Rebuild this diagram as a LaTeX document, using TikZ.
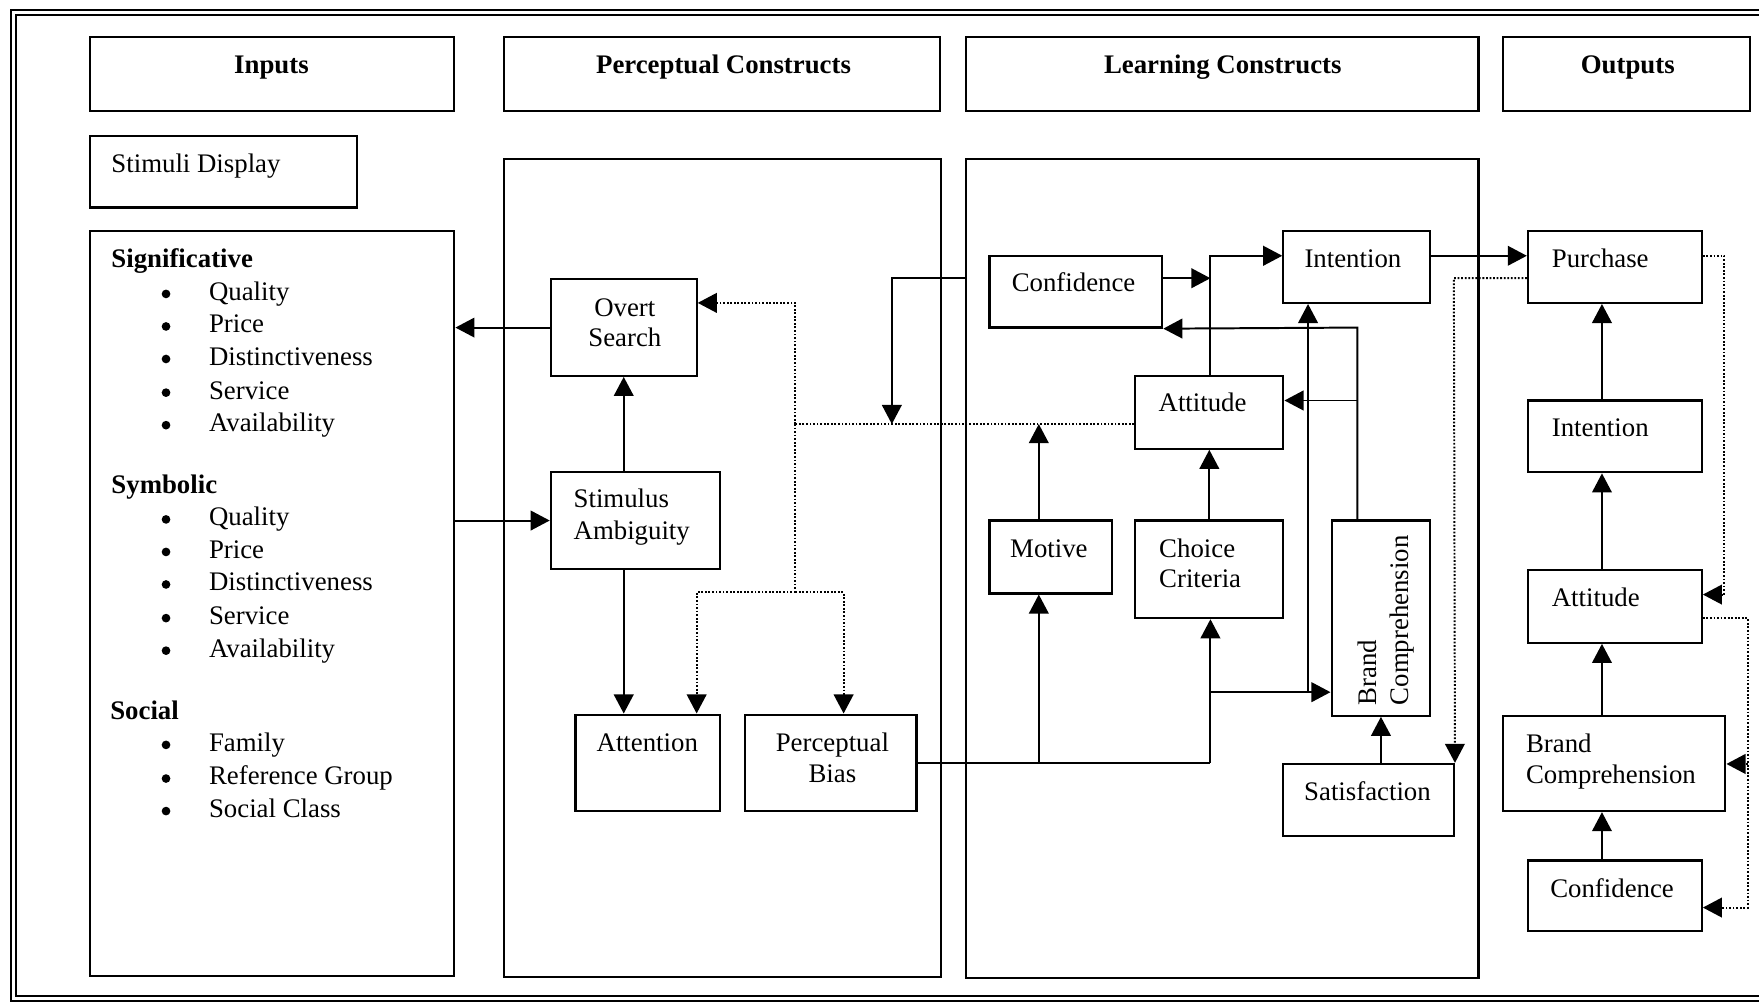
\documentclass[tikz,border=0pt]{standalone}
\usepackage{fontspec}
\setmainfont{Liberation Serif}
\usetikzlibrary{arrows.meta,fit,calc}
\newcommand{\fsz}{\fontsize{13.6}{16.5}\selectfont}
\begin{document}
\begin{tikzpicture}[x=0.02cm,y=-0.02cm,
  box/.style={draw, line width=1.1pt, inner sep=0pt},
  txt/.style={inner sep=0pt, text height=9.5pt, text depth=3pt, font=\fsz, yshift=-0.04cm},
  bt/.style={txt, font=\fsz\bfseries},
  bul/.style={circle, fill, inner sep=0pt, minimum size=0.155cm},
  arr/.style={line width=1pt, -{Triangle[length=0.34cm,width=0.35cm]}},
  ln/.style={line width=1pt},
  dot/.style={line width=0.9pt, dash pattern=on 0.9pt off 0.9pt},
  frame/.style={line width=1pt}]
\useasboundingbox (0,0) rectangle (1568,893);
% outer double frame
\draw[frame] (1568,9) -- (10,9) -- (10,892) -- (1568,892);
\draw[frame] (1568,13) -- (14,13) -- (14,888) -- (1568,888);

% header boxes
\node[box, fit={(80,33) (405,99)}] (hIn) {};
\node[box, fit={(449,33) (838,99)}] (hPc) {};
\node[box, fit={(861,33) (1318,99)}] (hLc) {};
\node[box, fit={(1340,33) (1560,99)}] (hOut) {};
\node[bt] (tIn) at (242,58) {Inputs};
\node[bt] (tPc) at (645,58) {Perceptual Constructs};
\node[bt] (tLc) at (1090,58) {Learning Constructs};
\node[bt] (tOut) at (1451,58) {Outputs};

% inputs
\node[box, fit={(80,121) (318,185)}] (sd) {};
\node[txt, anchor=west] (tSD) at (99,146) {Stimuli Display};
\node[box, fit={(80,206) (405,870)}] (inp) {};
\node[bt, anchor=west] (hSig) at (99,231) {Significative};
\foreach \y/\t [count=\i] in {260/Quality,289/Price,318/Distinctiveness,348/Service,377/Availability}{
  \node[bul] (sgb\i) at (148,\y+2) {};
  \node[txt, anchor=west] (sg\i) at (186,\y) {\t};
}
\node[bt, anchor=west] (hSym) at (99,432) {Symbolic};
\foreach \y/\t [count=\i] in {461/Quality,490/Price,519/Distinctiveness,549/Service,578/Availability}{
  \node[bul] (syb\i) at (148,\y+2) {};
  \node[txt, anchor=west] (sy\i) at (186,\y) {\t};
}
\node[bt, anchor=west] (hSoc) at (98,634) {Social};
\foreach \y/\t [count=\i] in {662/Family,692/Reference Group,721/Social Class}{
  \node[bul] (sob\i) at (148,\y+2) {};
  \node[txt, anchor=west] (so\i) at (186,\y) {\t};
}

% perceptual constructs
\node[box, fit={(449,142) (839,871)}] (pp) {};
\node[box, fit={(491,249) (621,335)}] (os) {};
\node[txt] (tOs1) at (557,274) {Overt};
\node[txt] (tOs2) at (557,301) {Search};
\node[box, fit={(491,421) (642,507)}] (sa) {};
\node[txt, anchor=west] (tSa1) at (511,445) {Stimulus};
\node[txt, anchor=west] (tSa2) at (511,473) {Ambiguity};
\node[box, fit={(513,637) (642,723)}] (att) {};
\node[txt] (tAtt) at (577,662) {Attention};
\node[box, fit={(664,637) (817,723)}] (pb) {};
\node[txt] (tPb1) at (742,662) {Perceptual};
\node[txt] (tPb2) at (742,690) {Bias};

% learning constructs
\node[box, fit={(861,142) (1318,872)}] (lp) {};
\node[box, fit={(882,228) (1036,292)}] (conL) {};
\node[txt] (tConL) at (957,252) {Confidence};
\node[box, fit={(1144,206) (1275,270)}] (intL) {};
\node[txt] (tIntL) at (1206,231) {Intention};
\node[box, fit={(1012,335) (1144,400)}] (attL) {};
\node[txt] (tAttL) at (1072,359) {Attitude};
\node[box, fit={(882,464) (991,529)}] (mot) {};
\node[txt] (tMot) at (935,489) {Motive};
\node[box, fit={(1012,464) (1144,551)}] (cc) {};
\node[txt, anchor=west] (tCc1) at (1033,489) {Choice};
\node[txt, anchor=west] (tCc2) at (1033,516) {Criteria};
\node[box, fit={(1187,464) (1275,638)}] (bcL) {};
\node[font=\fsz, rotate=90, anchor=north west, align=left, inner sep=0pt] (tBcL) at (1210,629) {Brand\\Comprehension};
\node[box, fit={(1144,681) (1296,745)}] (sat) {};
\node[txt] (tSat) at (1219,706) {Satisfaction};

% outputs
\node[box, fit={(1362,206) (1517,270)}] (pur) {};
\node[txt, anchor=west] (tPur) at (1383,231) {Purchase};
\node[box, fit={(1362,357) (1517,421)}] (intO) {};
\node[txt, anchor=west] (tIntO) at (1383,381) {Intention};
\node[box, fit={(1362,508) (1517,573)}] (attO) {};
\node[txt, anchor=west] (tAttO) at (1383,533) {Attitude};
\node[box, fit={(1340,638) (1538,723)}] (bcO) {};
\node[txt, anchor=west] (tBcO1) at (1360,663) {Brand};
\node[txt, anchor=west] (tBcO2) at (1360,691) {Comprehension};
\node[box, fit={(1362,767) (1517,830)}] (conO) {};
\node[txt] (tConO) at (1437,792) {Confidence};

% junction coordinates
\coordinate (dl) at (709,378);
\coordinate (dt) at (709,270);
\coordinate (db) at (709,528);
\coordinate (dbl) at (621,528);
\coordinate (dbr) at (752,528);
\coordinate (lk) at (795,248);
\coordinate (mx) at (926,681);
\coordinate (cx) at (1079,681);
\coordinate (cj) at (1079,617);
\coordinate (ij) at (1166,617);
\coordinate (iy) at (1079,228);
\coordinate (cy) at (1079,248);
\coordinate (bx) at (1210,292);
\coordinate (by) at (1210,357);
\coordinate (py) at (1296,248);
\coordinate (ox) at (1428,0);
\coordinate (r1) at (1537,228);
\coordinate (r1b) at (1537,530);
\coordinate (r2) at (1558,551);
\coordinate (r2m) at (1558,681);
\coordinate (r2b) at (1558,809);

% connectors: inputs / perceptual
\draw[arr] (os.west) -- (os.west -| inp.east);
\draw[arr] (sa.west -| inp.east) -- (sa.west);
\draw[arr] (os.south |- sa.north) -- (os.south);
\draw[arr] (os.south |- sa.south) -- (os.south |- att.north);
\draw[dot] (attL.west |- dl) -- (dl);
\draw[dot,arr] (dl) -- (dt) -- (dt -| os.east);
\draw[dot] (dl) -- (db);
\draw[dot,arr] (db) -- (dbl) -- (dbl |- att.north);
\draw[dot,arr] (db) -- (dbr) -- (dbr |- pb.north);
\draw[arr] (lk -| lp.west) -- (lk) -- (lk |- dl);

% connectors: learning
\draw[ln] (pb.east) -- (pb.east -| cx);
\draw[arr] (pb.east -| mx) -- (mx |- mot.south);
\draw[arr] (pb.east -| cx) -- (cx |- cc.south);
\draw[arr] (mx |- mot.north) -- (mx |- dl);
\draw[arr] (cj) -- (cj -| bcL.west);
\draw[arr] (ij) -- (ij |- intL.south);
\draw[arr] (cc.north) -- (attL.south);
\draw[arr] (attL.north -| iy) -- (iy) -- (iy -| intL.west);
\draw[arr] (cy -| conL.east) -- (cy);
\draw[arr] (bx |- bcL.north) -- (bx) -- (conL.south east);
\draw[arr] (by) -- (by -| attL.east);
\draw[arr] (sat.north -| bcL.south) -- (bcL.south);
\draw[arr] (iy -| intL.east) -- (iy -| pur.west);
\draw[dot,arr] (py -| pur.west) -- (py) -- (sat.north east);

% connectors: outputs
\draw[arr] (ox |- intO.north) -- (ox |- pur.south);
\draw[arr] (ox |- attO.north) -- (ox |- intO.south);
\draw[arr] (ox |- bcO.north) -- (ox |- attO.south);
\draw[arr] (ox |- conO.north) -- (ox |- bcO.south);
\draw[dot,arr] (r1 -| pur.east) -- (r1) -- (r1b) -- (r1b -| attO.east);
\draw[dot,arr] (r2 -| attO.east) -- (r2) -- (r2b) -- (r2b -| conO.east);
\draw[dot,arr] (r2m) -- (r2m -| bcO.east);
\end{tikzpicture}
\end{document}
